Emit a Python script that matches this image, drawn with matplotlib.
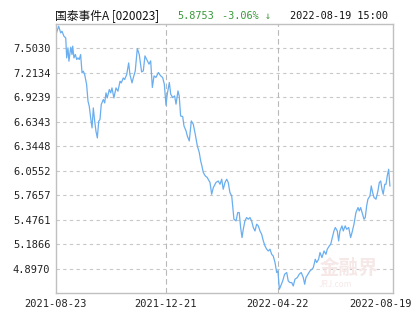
import matplotlib
matplotlib.use("Agg")
import matplotlib.pyplot as plt
import matplotlib.transforms as mtransforms

plt.rcParams['font.family'] = ['Noto Sans CJK SC', 'DejaVu Sans']

fund_name = "国泰事件A [020023]"
last_nav = "5.8753"
last_change = "-3.06% ↓"
last_time = "2022-08-19 15:00"

# trading-day position and unit NAV
day = [0, 1.9, 3.4, 4.3, 5.7, 7.0, 7.7, 8.6, 9.3, 10.6, 11.5, 12.0, 12.9, 13.9, 14.9, 15.8,
       16.7, 17.7, 18.7, 19.6, 20.6, 22.0, 23.0, 23.9, 24.9, 25.9, 26.8, 27.8, 28.7, 29.7,
       30.7, 31.6, 32.5, 34.0, 35.0, 35.9, 36.8, 38.3, 39.3, 40.2, 41.6, 43.1, 44.5, 46.0,
       46.9, 48.3, 49.3, 50.8, 52.2, 53.1, 54.6, 55.5, 56.9, 58.4, 59.8, 61.5, 62.7, 63.9,
       65.6, 66.8, 68.0, 69.2, 70.4, 71.8, 73.5, 75.2, 76.6, 77.8, 79.0, 79.9, 81.4, 82.4,
       83.8, 85.2, 86.2, 87.6, 88.5, 89.5, 91.0, 91.9, 93.4, 94.3, 95.7, 97.2, 98.6, 100.0,
       101.5, 102.9, 103.9, 104.8, 105.8, 107.2, 108.6, 110.6, 111.8, 113.0, 114.9, 116.5,
       117.8, 119.0, 120.1, 121.4, 122.6, 123.7, 124.9, 126.2, 127.8, 129.3, 130.5, 131.6,
       132.6, 133.6, 134.5, 135.7, 136.9, 138.1, 139.3, 140.5, 141.7, 142.9, 144.1, 145.3,
       146.5, 147.7, 148.9, 150.1, 151.3, 152.5, 153.7, 154.9, 156.0, 157.3, 158.5, 159.4,
       160.4, 161.4, 162.8, 164.2, 165.7, 166.8, 168.0, 169.3, 170.4, 171.6, 173.3, 174.7,
       176.1, 177.6, 178.6, 179.5, 181.0, 182.4, 183.8, 184.8, 186.2, 187.2, 188.6, 189.6,
       191.0, 192.5, 193.9, 194.8, 196.3, 197.3, 198.7, 199.6, 200.6, 202.0, 203.0, 203.9,
       205.4, 206.3, 207.7, 208.8, 210.2, 211.6, 212.6, 214.0, 215.4, 216.9, 217.8, 218.8,
       220.2, 221.2, 222.1, 223.1, 224.0, 225.5, 226.4, 227.4, 228.4, 229.8, 231.2, 232.2,
       233.2, 234.1, 235.0, 236.1, 237.0, 237.9, 238.9, 239.8]
nav = [7.668, 7.767, 7.687, 7.707, 7.648, 7.628, 7.391, 7.510, 7.352, 7.518, 7.431, 7.530,
       7.391, 7.431, 7.372, 7.391, 7.372, 7.431, 7.214, 7.234, 7.195, 7.076, 6.878, 6.819,
       6.681, 6.562, 6.799, 6.642, 6.523, 6.444, 6.642, 6.662, 6.839, 6.898, 6.858, 6.977,
       6.917, 7.017, 6.977, 7.036, 6.917, 7.036, 6.997, 7.115, 7.095, 7.154, 7.135, 7.195,
       7.332, 7.195, 7.095, 7.154, 7.234, 7.502, 7.431, 7.225, 7.237, 7.415, 7.356, 7.317,
       7.356, 7.041, 7.178, 7.159, 7.218, 7.178, 7.159, 7.080, 6.831, 6.961, 7.100, 6.961,
       6.922, 6.941, 6.843, 7.000, 6.941, 6.704, 6.697, 6.586, 6.527, 6.467, 6.408, 6.645,
       6.606, 6.488, 6.349, 6.271, 6.171, 6.112, 6.034, 5.994, 5.975, 5.916, 5.777, 5.856,
       5.916, 5.934, 5.895, 5.955, 5.836, 5.916, 5.955, 5.916, 5.797, 5.757, 5.481, 5.461,
       5.560, 5.560, 5.383, 5.264, 5.362, 5.461, 5.501, 5.481, 5.501, 5.461, 5.383, 5.342,
       5.422, 5.402, 5.342, 5.303, 5.224, 5.165, 5.126, 5.105, 5.126, 5.066, 5.046, 4.968,
       4.850, 4.869, 4.652, 4.691, 4.750, 4.830, 4.850, 4.750, 4.731, 4.731, 4.691, 4.770,
       4.790, 4.830, 4.850, 4.790, 4.711, 4.790, 4.830, 4.869, 4.889, 4.909, 5.007, 4.968,
       5.007, 5.087, 5.027, 5.105, 5.066, 5.126, 5.165, 5.185, 5.283, 5.342, 5.383, 5.342,
       5.224, 5.342, 5.402, 5.342, 5.402, 5.362, 5.383, 5.264, 5.323, 5.422, 5.560, 5.619,
       5.579, 5.619, 5.540, 5.481, 5.501, 5.638, 5.718, 5.757, 5.875, 5.797, 5.738, 5.718,
       5.816, 5.916, 5.934, 5.836, 5.777, 5.895, 5.895, 5.994, 6.073, 5.8753]

y_ticks = [4.8970, 5.1866, 5.4761, 5.7657, 6.0552, 6.3448, 6.6343, 6.9239, 7.2134, 7.5030]
y_labels = ["4.8970", "5.1866", "5.4761", "5.7657", "6.0552", "6.3448", "6.6343",
            "6.9239", "7.2134", "7.5030"]
x_ticks = [0, 79, 159.4, 242]
x_labels = ["2021-08-23", "2021-12-21", "2022-04-22", "2022-08-19"]

fig = plt.figure(figsize=(4.15, 3.3), dpi=100)
ax = fig.add_axes([0.1349, 0.1121, 0.8120, 0.8152])

ax.plot(day, nav, color='#6aaef0', linewidth=0.9)

ax.set_xlim(0, 242)
ax.set_ylim(4.6075, 7.7926)

ax.set_yticks(y_ticks)
ax.set_yticklabels(y_labels, fontfamily='DejaVu Sans Mono', fontsize=7.5)
ax.set_xticks(x_ticks)
ax.set_xticklabels(x_labels, fontfamily='DejaVu Sans Mono', fontsize=7.5)
ax.tick_params(length=0, pad=4, colors='#222222')

# the last date label is pulled left so it stays inside the image
last = ax.get_xticklabels()[-1]
last.set_transform(last.get_transform() + mtransforms.ScaledTranslation(-12 / 100, 0, fig.dpi_scale_trans))

for v in y_ticks:
    ax.axhline(v, color='#c8c8c8', linewidth=0.8, linestyle=(0, (3, 3)), zorder=0)
for v in x_ticks[1:-1]:
    ax.axvline(v, color='#b8b8b8', linewidth=0.8, linestyle=(0, (5, 3)), zorder=0)

for s in ax.spines.values():
    s.set_color('#c0c0c0')
    s.set_linewidth(1)

# watermark
ax.text(0.955, 0.055, "金融界", transform=ax.transAxes, fontsize=14, color='#f7e8e8',
        ha='right', va='bottom', fontweight='bold', zorder=0)
ax.text(0.88, 0.015, "JRJ.com", transform=ax.transAxes, fontsize=6, color='#f7e8e8',
        ha='right', va='bottom', style='italic', zorder=0)

# header line
fig.text(0.133, 0.951, fund_name, fontsize=8.5, color='#111111', va='center', ha='left')
fig.text(0.427, 0.951, last_nav, fontsize=7.4, color='#3a9a3a', va='center', ha='left',
         family=['DejaVu Sans Mono'])
fig.text(0.535, 0.951, last_change, fontsize=7.4, color='#3a9a3a', va='center', ha='left',
         family=['DejaVu Sans Mono'])
fig.text(0.698, 0.951, last_time, fontsize=7.4, color='#111111', va='center', ha='left',
         family=['DejaVu Sans Mono'])

fig.savefig("out.png", dpi=100)
